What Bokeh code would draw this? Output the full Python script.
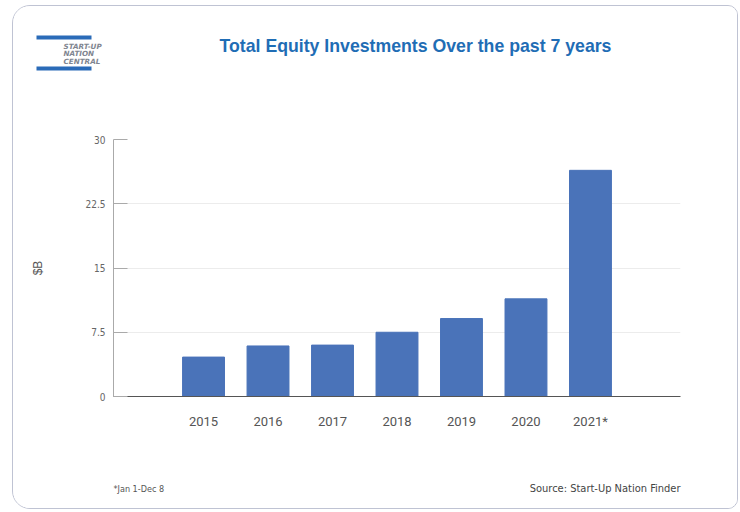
from bokeh.plotting import figure
from bokeh.models import Label, BoxAnnotation, FactorRange, Range1d, FixedTicker, ColumnDataSource
from bokeh.layouts import column
from bokeh.embed import file_html
from bokeh.resources import INLINE

years = ["2015", "2016", "2017", "2018", "2019", "2020", "2021*"]
values = [4.6, 5.9, 6.0, 7.5, 9.1, 11.4, 26.4]
y_ticks = [0, 7.5, 15, 22.5, 30]
y_tick_labels = {0: "0", 7.5: "7.5", 15: "15", 22.5: "22.5", 30: "30"}

W = 724
H_HEAD, H_MAIN, H_FOOT = 100, 344, 58
NARROW = "DejaVu Sans Condensed"


def blank(h):
    f = figure(width=W, height=h, output_backend="svg", toolbar_location=None,
               x_range=Range1d(0, W), y_range=Range1d(h, 0),
               min_border=0, x_axis_location=None, y_axis_location=None)
    f.frame_align = False
    f.outline_line_color = None
    f.grid.grid_line_color = None
    f.background_fill_color = "white"
    f.border_fill_color = "white"
    return f


# header
head = blank(H_HEAD)
head.add_layout(Label(x=402, y=39, text="Total Equity Investments Over the past 7 years",
                      text_font="Liberation Sans", text_font_style="bold", text_font_size="17.7px",
                      text_color="#1f6db5", text_align="center", text_baseline="middle"))
head.add_layout(BoxAnnotation(left=23, right=78, top=29, bottom=33, fill_color="#2a6bb8",
                              fill_alpha=1, line_color=None))
head.add_layout(BoxAnnotation(left=23, right=78, top=60, bottom=64, fill_color="#2a6bb8",
                              fill_alpha=1, line_color=None))
head.add_layout(Label(x=50, y=35, text="START-UP\nNATION\nCENTRAL",
                      text_font="DejaVu Sans", text_font_style="bold italic", text_font_size="7.2px",
                      text_color="#7f8590", text_align="left", text_baseline="top", text_line_height=0.85))

# main chart
src = ColumnDataSource(dict(year=years, value=values))
p = figure(width=W, height=H_MAIN, output_backend="svg", toolbar_location=None,
           x_range=FactorRange(*years, range_padding=0.256, range_padding_units="percent"),
           y_range=Range1d(0, 30),
           min_border_left=100, min_border_right=57, min_border_top=33, min_border_bottom=54)
p.outline_line_color = None
p.background_fill_color = "white"
p.border_fill_color = "white"

p.vbar(x="year", top="value", width=0.65, source=src, color="#4a73b9")

p.xgrid.grid_line_color = None
p.ygrid.grid_line_color = "#ececec"
p.ygrid.ticker = FixedTicker(ticks=y_ticks)

p.yaxis.ticker = FixedTicker(ticks=y_ticks)
p.yaxis.major_label_overrides = y_tick_labels
p.yaxis.minor_tick_line_color = None
p.yaxis.major_tick_in = 14
p.yaxis.major_tick_out = 0
p.yaxis.major_tick_line_color = "#aaaaaa"
p.yaxis.axis_line_color = "#aaaaaa"
p.yaxis.major_label_text_font = NARROW
p.yaxis.major_label_text_font_size = "10px"
p.yaxis.major_label_text_color = "#666666"
p.yaxis.major_label_standoff = 8
p.yaxis.axis_label = "$B"
p.yaxis.axis_label_text_font = "Liberation Sans"
p.yaxis.axis_label_text_font_style = "normal"
p.yaxis.axis_label_text_font_size = "12px"
p.yaxis.axis_label_text_color = "#555555"
p.yaxis.axis_label_standoff = 37

p.xaxis.major_tick_line_color = None
p.xaxis.minor_tick_line_color = None
p.xaxis.axis_line_color = "#555555"
p.xaxis.major_label_text_font = "Roboto"
p.xaxis.major_label_text_font_size = "13px"
p.xaxis.major_label_text_color = "#555555"
p.xaxis.major_label_standoff = 11

# footer
foot = blank(H_FOOT)
foot.add_layout(Label(x=667, y=38, text="Source: Start-Up Nation Finder",
                      text_font=NARROW, text_font_size="11px",
                      text_color="#444444", text_align="right", text_baseline="middle"))
foot.add_layout(Label(x=100, y=38, text="*Jan 1-Dec 8",
                      text_font=NARROW, text_font_size="9px",
                      text_color="#555555", text_align="left", text_baseline="middle"))

layout = column(head, p, foot, spacing=0)
layout.margin = (5, 0, 0, 12)
layout.styles = {"border": "1.5px solid #bfc3d3", "border-radius": "18px 10px 10px 18px",
                 "overflow": "hidden"}

open("out.html", "w").write(file_html(layout, INLINE))
